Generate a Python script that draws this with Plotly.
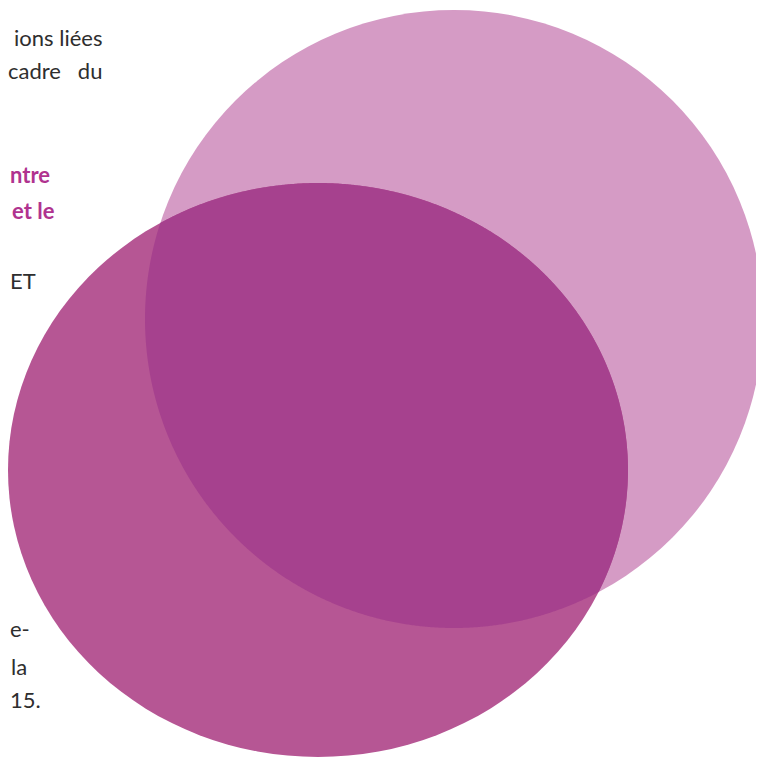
import numpy as np
import plotly.graph_objects as go

W, H = 756, 758
OFF = 8  # page body margin: data coordinates = on-screen pixels

# Two overlapping ellipses (picture pixel units)
ellipse_names = ["light", "dark"]
ellipse_cx = [454, 318]
ellipse_cy = [319, 470]
ellipse_rx = [309, 310]
ellipse_ry = [309, 287]
ellipse_colors = ["#D59BC5", "#B65694"]
overlap_color = "#A6418E"

# Text fragments visible at the left edge
text_labels = ["ions liées", "cadre&nbsp;&nbsp;&nbsp;du", "ntre", "et le", "ET", "e-", "la", "15."]
text_x = [104, 104, 8, 57, 8, 8, 29, 8]
text_anchor = ["right", "right", "left", "right", "left", "left", "right", "left"]
text_y = [45, 78, 182, 218, 288, 636, 674, 707]
text_bold = [False, False, True, True, False, False, False, False]
text_color_plain = "#2e2e2e"
text_color_bold = "#B0338F"
font_size = 22

fig = go.Figure()

shapes = []
for name, cx, cy, rx, ry, col in zip(ellipse_names, ellipse_cx, ellipse_cy,
                                     ellipse_rx, ellipse_ry, ellipse_colors):
    shapes.append(dict(type="circle", xref="x", yref="y",
                       x0=cx - rx, x1=cx + rx, y0=cy - ry, y1=cy + ry,
                       fillcolor=col, line=dict(width=0), layer="above"))

# Intersection region of the two ellipses
t = np.linspace(0, 2 * np.pi, 1440, endpoint=False)
def pts(i):
    return (ellipse_cx[i] + ellipse_rx[i] * np.cos(t),
            ellipse_cy[i] + ellipse_ry[i] * np.sin(t))
def inside(i, x, y):
    return ((x - ellipse_cx[i]) / ellipse_rx[i]) ** 2 + ((y - ellipse_cy[i]) / ellipse_ry[i]) ** 2 <= 1
xa, ya = pts(0)
xb, yb = pts(1)
ma = inside(1, xa, ya)
mb = inside(0, xb, yb)
px = np.concatenate([xa[ma], xb[mb]])
py = np.concatenate([ya[ma], yb[mb]])
mx, my = px.mean(), py.mean()
order = np.argsort(np.arctan2(py - my, px - mx))
px, py = px[order], py[order]
path = "M " + " L ".join(f"{a:.2f},{b:.2f}" for a, b in zip(px, py)) + " Z"
shapes.append(dict(type="path", xref="x", yref="y", path=path,
                   fillcolor=overlap_color, line=dict(width=0), layer="above"))

annotations = []
for lab, x, anc, y, b in zip(text_labels, text_x, text_anchor, text_y, text_bold):
    annotations.append(dict(
        text=f"<b>{lab}</b>" if b else lab,
        x=x, y=y, xref="x", yref="y", xanchor=anc, yanchor="bottom",
        showarrow=False, yshift=-8,
        font=dict(family="Lato, Open Sans, sans-serif", size=font_size,
                  color=text_color_bold if b else text_color_plain)))

fig.update_layout(
    width=W, height=H,
    margin=dict(l=0, r=0, t=0, b=0),
    paper_bgcolor="white", plot_bgcolor="white",
    xaxis=dict(range=[OFF, W + OFF], visible=False, fixedrange=True),
    yaxis=dict(range=[H + OFF, OFF], visible=False, fixedrange=True),
    shapes=shapes, annotations=annotations, showlegend=False,
)

fig.write_html("out.html")
